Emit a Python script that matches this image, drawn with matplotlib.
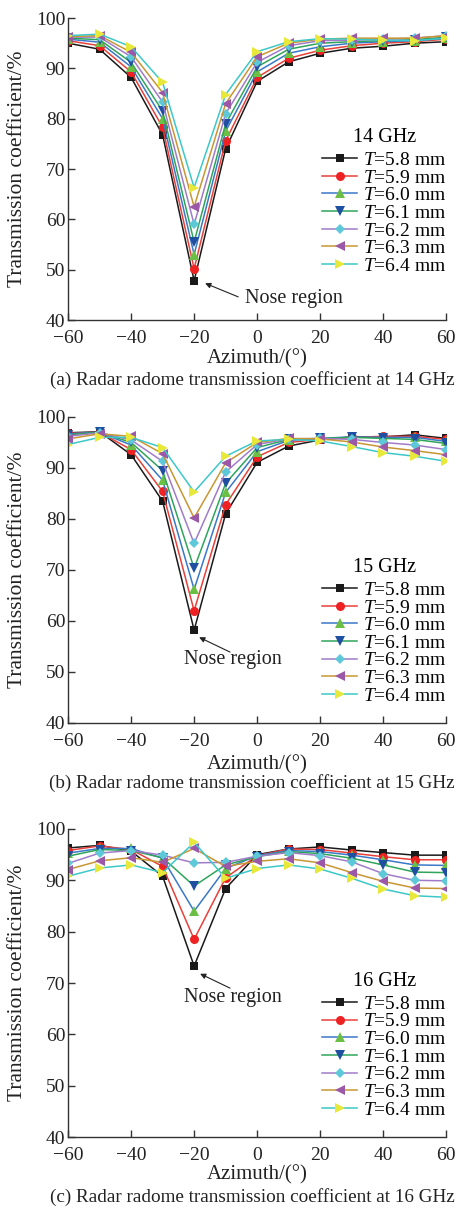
import numpy as np
import matplotlib
matplotlib.use('Agg')
import matplotlib.pyplot as plt

plt.rcParams['font.family'] = ['Liberation Serif', 'DejaVu Serif']
plt.rcParams['mathtext.fontset'] = 'custom'
plt.rcParams['mathtext.rm'] = 'Liberation Serif'
plt.rcParams['mathtext.it'] = 'Liberation Serif:italic'

# Datos
azimut = [-60, -50, -40, -30, -20, -10, 0, 10, 20, 30, 40, 50, 60]
espesores = ['5.8', '5.9', '6.0', '6.1', '6.2', '6.3', '6.4']

t_14ghz = [
    [95.0, 93.8, 88.2, 76.8, 47.8, 74.0, 87.4, 91.3, 93.0, 94.0, 94.4, 95.0, 95.3],
    [95.5, 94.5, 89.3, 78.3, 50.2, 75.6, 88.2, 92.0, 93.6, 94.5, 95.0, 95.3, 95.8],
    [95.8, 95.2, 90.3, 80.0, 53.0, 77.5, 89.3, 93.0, 94.3, 95.0, 95.3, 95.5, 96.0],
    [96.0, 95.7, 91.2, 81.5, 55.5, 79.0, 90.3, 93.8, 95.0, 95.3, 95.5, 95.7, 96.2],
    [96.2, 96.2, 92.3, 83.3, 59.0, 81.0, 91.2, 94.5, 95.5, 95.6, 95.8, 96.0, 96.5],
    [96.3, 96.5, 93.2, 85.2, 62.5, 83.0, 92.3, 95.0, 95.8, 96.0, 96.0, 96.0, 96.5],
    [96.5, 96.8, 94.3, 87.2, 66.3, 84.8, 93.3, 95.3, 95.9, 95.8, 95.6, 95.5, 96.0],
]
t_15ghz = [
    [96.9, 97.1, 92.6, 83.5, 58.2, 81.0, 91.1, 94.3, 95.5, 96.1, 96.1, 96.5, 95.8],
    [96.8, 97.0, 93.6, 85.4, 62.0, 82.8, 92.2, 95.0, 95.6, 96.0, 96.2, 96.2, 95.6],
    [96.7, 97.0, 94.5, 87.6, 66.2, 85.2, 93.2, 95.4, 95.8, 96.1, 96.0, 96.0, 95.2],
    [96.5, 97.0, 95.0, 89.5, 70.3, 87.0, 94.0, 95.6, 95.8, 96.0, 95.8, 95.6, 94.8],
    [96.2, 96.9, 95.5, 91.3, 75.2, 89.2, 94.6, 95.7, 95.8, 95.6, 95.0, 94.5, 93.6],
    [95.7, 96.7, 96.2, 92.8, 80.2, 91.0, 95.0, 95.8, 95.7, 95.1, 94.1, 93.4, 92.6],
    [94.6, 96.0, 96.0, 94.0, 85.3, 92.3, 95.3, 95.6, 95.3, 94.2, 93.0, 92.3, 91.3],
]
t_16ghz = [
    [96.3, 96.8, 95.7, 90.8, 73.3, 88.4, 95.0, 96.1, 96.5, 95.9, 95.4, 94.9, 94.9],
    [95.8, 96.7, 96.0, 92.7, 78.5, 90.5, 94.8, 96.1, 96.0, 95.3, 94.6, 94.0, 94.0],
    [95.3, 96.2, 96.2, 94.3, 84.0, 92.3, 94.8, 95.8, 95.6, 94.9, 94.0, 93.0, 92.9],
    [94.7, 96.0, 95.8, 94.4, 88.9, 93.0, 94.6, 95.6, 95.2, 94.3, 93.0, 91.6, 91.5],
    [93.3, 95.3, 95.8, 94.9, 93.4, 93.5, 94.7, 95.4, 94.8, 93.6, 91.3, 90.0, 89.9],
    [92.1, 93.8, 94.4, 93.5, 96.2, 92.7, 93.7, 94.2, 93.4, 91.5, 89.8, 88.5, 88.4],
    [90.8, 92.4, 93.0, 91.5, 97.4, 90.4, 92.3, 93.0, 92.2, 90.4, 88.3, 87.0, 86.7],
]

frecuencias = ['14 GHz', '15 GHz', '16 GHz']
subtitulos = ['(a) Radar radome transmission coefficient at 14 GHz',
              '(b) Radar radome transmission coefficient at 15 GHz',
              '(c) Radar radome transmission coefficient at 16 GHz']

colores_linea = ['#1a1a1a', '#e8403a', '#3a78c8', '#2ea55a', '#a07cc8', '#c89632', '#3cc8c8']
colores_marca = ['#1a1a1a', '#ee2222', '#6cbf45', '#1f4fa0', '#5cc8d8', '#9c58a8', '#e8e83a']
marcas = ['s', 'o', '^', 'v', 'D', '<', '>']
tamanos = [5.5, 6.5, 7.5, 7.5, 5.5, 7.5, 7.5]

fig = plt.figure(figsize=(4.6, 12.1), dpi=100)

# posiciones de los ejes (fracción de figura)
ejes_pos = [
    [0.148, 0.7355, 0.822, 0.2496],
    [0.148, 0.4025, 0.822, 0.2529],
    [0.148, 0.0603, 0.822, 0.2546],
]
# anotación "Nose region": (punto flecha, texto)
flechas = [
    ((-16.5, 47.3), (-6.0, 44.6)),
    ((-18.4, 56.8), (-8.6, 53.9)),
    ((-18.1, 71.8), (-8.6, 69.0)),
]
textos_nose = [(11.5, 44.2), (-7.6, 52.4), (-7.6, 67.1)]
leyenda_y = [0.15, 0.06, 0.06]
subtitulo_y = [380, 783, 1197]
azimut_y = [359, 765, 1175]

datos = [t_14ghz, t_15ghz, t_16ghz]

for k in range(3):
    ax = fig.add_axes(ejes_pos[k])
    for i in range(len(espesores)):
        ax.plot(azimut, datos[k][i], color=colores_linea[i], linewidth=1.1,
                marker=marcas[i], markersize=tamanos[i],
                markerfacecolor=colores_marca[i], markeredgewidth=0,
                label=r'$\mathit{T}$=' + espesores[i] + ' mm')

    ax.set_xlim(-60, 60)
    ax.set_ylim(40, 100)
    ax.set_xticks(np.arange(-60, 61, 20))
    ax.set_yticks(np.arange(40, 101, 10))
    ax.spines['top'].set_visible(False)
    ax.spines['right'].set_visible(False)
    for s in ['left', 'bottom']:
        ax.spines[s].set_linewidth(1.0)
        ax.spines[s].set_color('#333333')
    ax.tick_params(direction='in', length=5, width=1.0, labelsize=14,
                   colors='#333333', labelcolor='#222222')
    ax.tick_params(axis='x', pad=7)
    ax.tick_params(axis='y', pad=2)
    ax.set_ylabel('Transmission coefficient/%', fontsize=15.5, color='#222222')
    ax.yaxis.set_label_coords(-0.108, 0.5)
    fig.text(0.148 + 0.822 / 2, 1 - azimut_y[k] / 1210, 'Azimuth/(°)', ha='center',
             va='center', fontsize=15, color='#222222')

    ax.annotate('', xy=flechas[k][0], xytext=flechas[k][1],
                arrowprops=dict(arrowstyle='-|>', color='#222222', lw=0.8,
                                mutation_scale=8, shrinkA=0, shrinkB=0))
    ax.text(textos_nose[k][0], textos_nose[k][1], 'Nose region', fontsize=14.5,
            ha='center', va='center', color='#222222')

    leg = ax.legend(loc='lower right', bbox_to_anchor=(1.0, leyenda_y[k]),
                    frameon=False, fontsize=14, title=frecuencias[k],
                    title_fontsize=14.5, handlelength=1.8, handletextpad=0.3,
                    labelspacing=0.0, borderaxespad=0, borderpad=0)
    leg._legend_box.sep = 3

    fig.text(252 / 460, 1 - subtitulo_y[k] / 1210, subtitulos[k], ha='center', va='center',
             fontsize=13.8, color='#222222')

fig.savefig('out.png', dpi=100)
